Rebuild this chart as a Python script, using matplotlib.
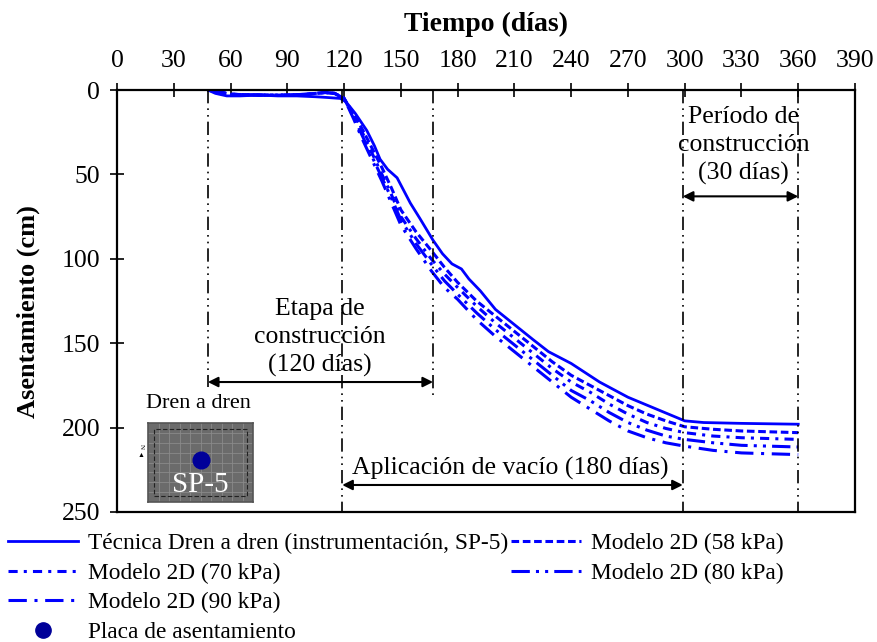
import matplotlib.pyplot as plt
from matplotlib.lines import Line2D

plt.rcParams['font.family'] = ['Liberation Serif', 'DejaVu Serif']

# measured settlement (SP-5)
dias_obs = [48, 52, 58, 65, 75, 85, 95, 105, 112, 118, 121, 126, 132, 136, 139, 143, 148,
            155, 160, 167, 172, 177, 182, 186, 192, 200, 210, 220, 228, 240, 255, 270,
            285, 300, 310, 330, 360]
asent_obs = [0, 2, 3.5, 3.5, 3, 3.5, 3.5, 4, 4.5, 5, 7, 14, 24, 33, 41, 47, 52,
             67, 76, 89, 97, 103, 106, 112, 119, 130, 139, 148, 155, 162, 173, 182,
             189, 196, 197, 197.5, 198]

# 2D model
dias_mod = [48, 60, 75, 90, 100, 110, 115, 120, 125, 130, 135, 140, 145, 150, 158, 166,
            173, 180, 190, 200, 210, 220, 230, 240, 250, 260, 270, 280, 290, 300, 315,
            330, 345, 360]
m58 = [0, 2.5, 3, 3, 2.5, 1.5, 2, 5, 14, 24, 35, 46, 58, 71, 84, 95,
       105, 114, 125, 134, 143, 152, 161, 169, 175, 181, 187, 192, 196, 199.5, 201,
       202, 202.5, 203]
m70 = [0, 2.5, 3, 3, 2.5, 1.5, 2, 5, 15, 26, 38, 50, 62, 75, 88, 100,
       109, 117, 128, 138, 147, 156, 165, 173, 179, 186, 192, 197, 200.5, 203, 205,
       206, 206.5, 207]
m80 = [0, 2.5, 3, 3, 2.5, 1.5, 2, 5, 16, 28, 40, 52, 64, 77, 91, 103,
       113, 121, 132, 142, 151, 160, 169, 178, 184, 191, 197, 201.5, 205, 207, 209,
       210.5, 211, 211.5]
m90 = [0, 2.5, 3, 3, 2.5, 1.5, 2, 5, 17, 30, 42, 54, 67, 80, 94, 107,
       117, 124, 136, 146, 155, 164, 173, 182, 189, 196, 202, 206, 209, 211, 213.5,
       215, 215.5, 216]

xticks = list(range(0, 391, 30))
yticks = list(range(0, 251, 50))

azul = '#0000ff'
fs = 18.5

fig = plt.figure(figsize=(8.78, 6.42), dpi=100)
ax = fig.add_axes([0.1333, 0.2025, 0.8405, 0.6573])

l1, = ax.plot(dias_obs, asent_obs, color=azul, lw=2)
l2, = ax.plot(dias_mod, m58, color=azul, lw=2.2, ls=(0, (2.5, 1.2)))
l3, = ax.plot(dias_mod, m70, color=azul, lw=2.2, ls=(0, (3, 2, 1, 2)))
l4, = ax.plot(dias_mod, m80, color=azul, lw=2.2, ls=(0, (6, 2, 1, 2, 1, 2)))
l5, = ax.plot(dias_mod, m90, color=azul, lw=2.2, ls=(0, (6, 2.5, 1, 2.5)))

# stage limits
vls = (0, (8, 3, 1, 3, 1, 3))
ax.plot([48, 48], [0, 176], color='black', lw=1.2, ls=vls)
ax.plot([167, 167], [0, 181], color='black', lw=1.2, ls=vls)
for d in [119, 299, 360]:
    ax.plot([d, d], [0, 250], color='black', lw=1.2, ls=vls)

flecha = dict(arrowstyle='<|-|>', color='black', lw=1.5, mutation_scale=15,
              shrinkA=0, shrinkB=0)
ax.annotate('', xy=(48, 173), xytext=(167, 173), arrowprops=flecha)
ax.annotate('', xy=(119, 234), xytext=(299, 234), arrowprops=flecha)
ax.annotate('', xy=(299, 63), xytext=(360, 63), arrowprops=flecha)

ax.text(107, 146.5, 'Etapa de\nconstrucción\n(120 días)', ha='center', va='center',
        fontsize=fs, linespacing=1.33)
ax.text(331, 33, 'Período de\nconstrucción\n(30 días)', ha='center', va='center',
        fontsize=fs, linespacing=1.33)
ax.text(208, 224, 'Aplicación de vacío (180 días)', ha='center', va='center', fontsize=fs)
ax.text(43, 186, 'Dren a dren', ha='center', va='center', fontsize=16)

ax.set_xlim(0, 390)
ax.set_ylim(250, 0)
ax.xaxis.set_ticks_position('top')
ax.xaxis.set_label_position('top')
ax.set_xticks(xticks)
ax.set_yticks(yticks)
ax.tick_params(axis='both', direction='inout', length=10, width=1.2, labelsize=fs)
ax.tick_params(axis='x', pad=8)
ax.tick_params(axis='y', pad=7)
ax.set_xlabel('Tiempo (días)', fontsize=20, fontweight='bold', labelpad=14)
ax.set_ylabel('Asentamiento (cm)', fontsize=19, fontweight='bold')
ax.yaxis.set_label_coords(-0.105, 0.474)
for s in ax.spines.values():
    s.set_linewidth(1.6)

# plan view inset
ins = fig.add_axes([0.1686, 0.218, 0.1196, 0.123])
ins.set_facecolor('#6b6b6b')
ins.set_xlim(0, 10)
ins.set_ylim(0, 8)
for g in range(1, 10):
    ins.axvline(g, color='#8a8a8a', lw=0.6)
for g in range(1, 8):
    ins.axhline(g, color='#8a8a8a', lw=0.6)
ins.plot([0.6, 9.4, 9.4, 0.6, 0.6], [0.6, 0.6, 7.4, 7.4, 0.6], color='#222222',
         lw=0.8, ls=(0, (4, 2)))
ins.plot([5], [4.3], 'o', color='#000099', ms=12)
ins.text(5, 1.7, 'SP-5', color='white', ha='center', va='center', fontsize=21)
ins.set_xticks([])
ins.set_yticks([])
for s in ins.spines.values():
    s.set_color('#555555')
    s.set_linewidth(1.2)
fig.text(0.161, 0.305, 'N', fontsize=5, rotation=-90, ha='center', va='center')
fig.text(0.161, 0.29, '▲', fontsize=5, ha='center', va='center')

# legend
vacio = Line2D([], [], ls='none')
placa = Line2D([], [], ls='none', marker='o', color='#000099', ms=11)
handles = [l1, l3, l5, placa, l2, l4, vacio, vacio]
labels = ['Técnica Dren a dren (instrumentación, SP-5)', 'Modelo 2D (70 kPa)',
          'Modelo 2D (90 kPa)', 'Placa de asentamiento', 'Modelo 2D (58 kPa)',
          'Modelo 2D (80 kPa)', '', '']
fig.legend(handles, labels, loc='upper left', bbox_to_anchor=(0.004, 0.177), ncol=2,
           frameon=False, fontsize=16.8, handlelength=3.0, handletextpad=0.43,
           columnspacing=0.1, labelspacing=0.35, borderaxespad=0, borderpad=0.2)

fig.savefig('out.png', dpi=100)
